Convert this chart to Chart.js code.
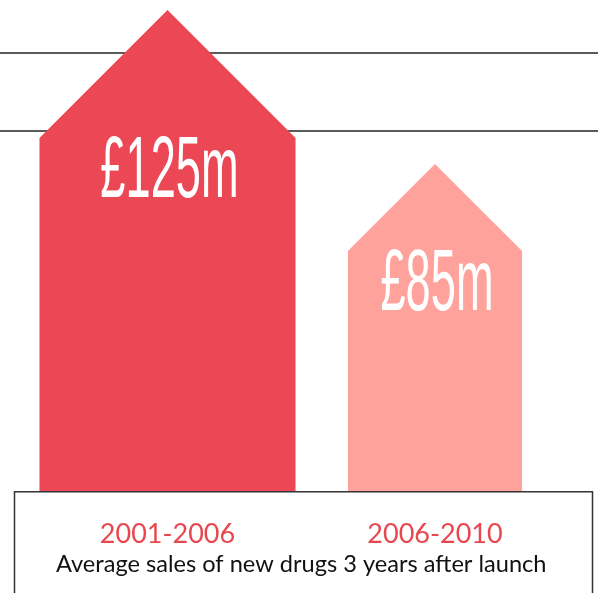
<!DOCTYPE html>
<html>
<head>
<meta charset="utf-8">
<script src="https://cdn.jsdelivr.net/npm/chart.js@4.4.1/dist/chart.umd.min.js"></script>
<style>
    html, body { margin: 0; padding: 0; background: #fff; }
    #contenedor { width: 598px; height: 593px; }
</style>
</head>
<body>
<div id="contenedor"><canvas id="myChart"></canvas></div>
<script>
//Datos de la grafica
const periodos = ['2001-2006', '2006-2010'];
const ventas = [125, 85];            // millones de libras
const lineasGuia = [93.6, 113.8];    // lineas horizontales de fondo
const colores = ['#EB4754', '#FFA29B'];
const titulo = 'Average sales of new drugs 3 years after launch';

const ROJO_TEXTO = '#E9474F';

//---------------------------------PLUGIN CASAS---------------------------------
const pluginCasas = {
    id: 'casas',
    beforeDatasetsDraw(chart) {
        const ctx = chart.ctx;
        const ejeY = chart.scales.y;
        ctx.save();
        ctx.strokeStyle = '#5b5b5b';
        ctx.lineWidth = 2;
        lineasGuia.forEach(function (v) {
            const py = Math.round(ejeY.getPixelForValue(v));
            ctx.beginPath();
            ctx.moveTo(0, py);
            ctx.lineTo(chart.width, py);
            ctx.stroke();
        });
        ctx.restore();
    },
    afterDatasetsDraw(chart) {
        const ctx = chart.ctx;
        const meta = chart.getDatasetMeta(0);
        meta.data.forEach(function (bar, i) {
            const alto = bar.base - bar.y;
            const medio = alto * 0.266;      // el tejado va a 45 grados
            const hombro = bar.y + medio;
            ctx.save();
            ctx.fillStyle = colores[i];
            ctx.beginPath();
            ctx.moveTo(bar.x, bar.y);
            ctx.lineTo(bar.x + medio, hombro);
            ctx.lineTo(bar.x + medio, bar.base);
            ctx.lineTo(bar.x - medio, bar.base);
            ctx.lineTo(bar.x - medio, hombro);
            ctx.closePath();
            ctx.fill();

            //Etiqueta del valor
            ctx.fillStyle = '#fff';
            ctx.font = '87px "Liberation Sans Narrow", "Liberation Sans", sans-serif';
            ctx.textAlign = 'center';
            ctx.textBaseline = 'alphabetic';
            ctx.translate(bar.x + 2, hombro + 59);
            ctx.scale(0.52, 1);
            ctx.fillText('£' + ventas[i] + 'm', 0, 0);
            ctx.restore();
        });

        //Caja de abajo
        const area = chart.chartArea;
        ctx.save();
        ctx.strokeStyle = '#333';
        ctx.lineWidth = 1.5;
        ctx.strokeRect(14.5, area.bottom + 0.5, 578, chart.height);
        ctx.restore();
    }
};

const data = {
    labels: periodos,
    datasets: [{
        label: titulo,
        data: ventas,
        backgroundColor: 'rgba(0,0,0,0)',
        borderWidth: 0
    }]
};

const config = {
    type: 'bar',
    data: data,
    options: {
        responsive: true,
        maintainAspectRatio: false,
        animation: false,
        layout: {
            padding: { left: 33.75, right: 29.25, top: 10, bottom: 0 }
        },
        plugins: {
            legend: { display: false },
            tooltip: { enabled: false },
            title: {
                display: true,
                position: 'bottom',
                text: titulo,
                color: '#111',
                font: { family: 'Lato', size: 23.6, weight: 'normal' },
                padding: { top: 0, bottom: 14 }
            }
        },
        scales: {
            x: {
                offset: true,
                grid: { display: false, drawTicks: false },
                border: { display: false },
                ticks: {
                    color: ROJO_TEXTO,
                    font: { family: 'Lato', size: 27 },
                    padding: 27
                },
                afterFit: function (eje) {
                    eje.height = 59.4;
                }
            },
            y: {
                display: false,
                min: 0,
                max: 125
            }
        }
    },
    plugins: [pluginCasas]
};

new Chart(document.getElementById('myChart'), config);
</script>
</body>
</html>
